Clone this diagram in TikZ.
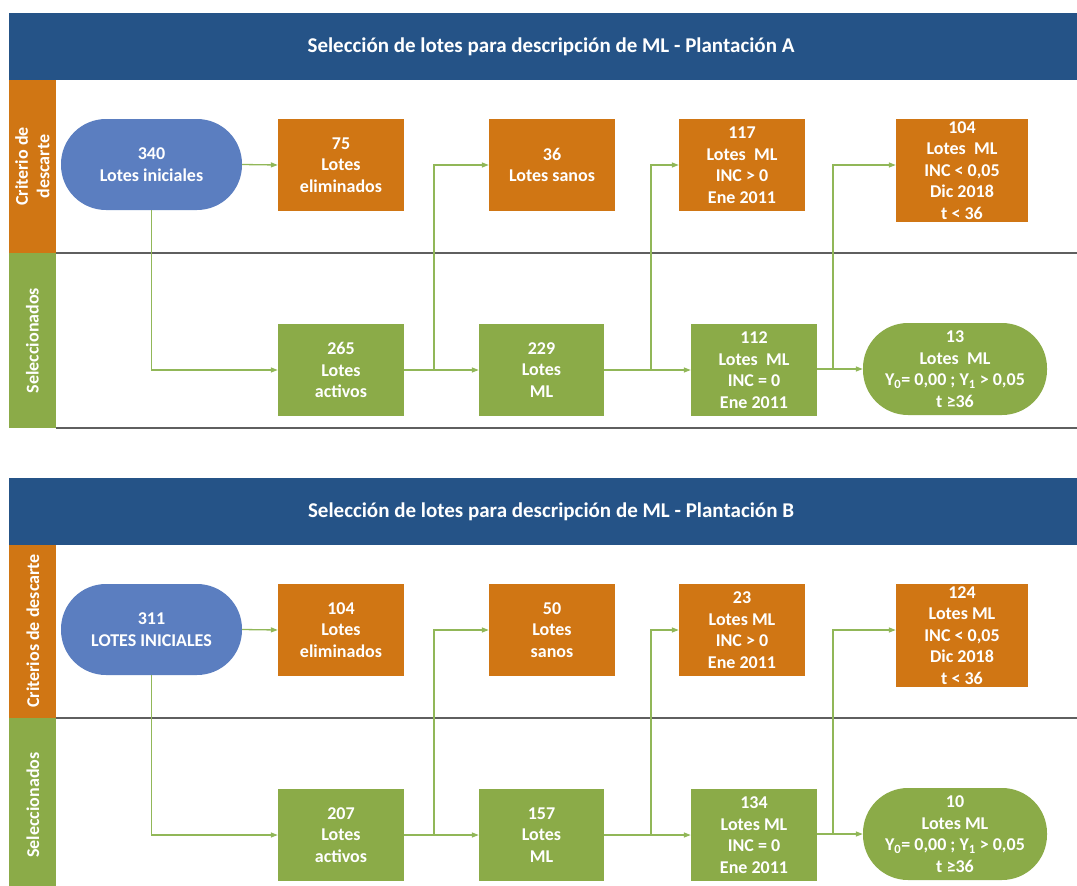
\documentclass[tikz,border=0pt]{standalone}
\usepackage{fontspec}
\setmainfont{Carlito}
\usetikzlibrary{arrows.meta,calc}
\definecolor{hdr}{RGB}{37,83,135}
\definecolor{orng}{RGB}{208,118,20}
\definecolor{grn}{RGB}{139,171,72}
\definecolor{stblue}{RGB}{91,126,192}
\definecolor{conncol}{RGB}{145,183,88}
\definecolor{lanegray}{RGB}{95,95,95}
\begin{document}
\begin{tikzpicture}[x=1pt,y=-1pt,
  txt/.style={font=\bfseries\fontsize{18}{21.5}\selectfont, text=white, align=center},
  htxt/.style={font=\bfseries\fontsize{21}{24}\selectfont, text=white, align=center},
  obox/.style={txt, fill=orng, inner sep=0pt, minimum width=126pt, minimum height=92pt},
  gbox/.style={txt, fill=grn, inner sep=0pt, minimum width=126pt, minimum height=92pt},
  stad/.style={txt, inner sep=0pt, minimum height=91pt, rounded corners=45pt},
  conn/.style={draw=conncol, line width=1.3pt, -{Triangle[length=7pt,width=5pt]}},
  lane/.style={draw=lanegray, line width=1.5pt},
  sidelab/.style={txt, rotate=90}
]
\useasboundingbox (0,0) rectangle (1077,886);

% ================= Panel A =================
\fill[hdr] (9,13) rectangle (1077,80);
\node[htxt] (ahdr) at (551,46.5) {Selección de lotes para descripción de ML - Plantación A};
\fill[orng] (9,80) rectangle (56,253);
\fill[grn] (9,253) rectangle (56,428);
\node[sidelab] (acrit) at (32.5,166.5) {Criterio de\\descarte};
\node[sidelab] (asel) at (32.5,340.5) {Seleccionados};
\draw[lane] (56,253) -- (1077,253);
\draw[lane] (56,428) -- (1077,428);

\node[stad, fill=stblue, minimum width=181pt] (aini) at (151.5,164.5) {340\\Lotes iniciales};
\node[obox] (aelim) at (341,165) {75\\Lotes\\eliminados};
\node[obox] (asan) at (552,165) {36\\Lotes sanos};
\node[obox] (ainc) at (742,165) {117\\Lotes~ ML\\INC > 0\\Ene 2011};
\node[obox, minimum width=132pt, minimum height=103pt] (adic) at (962,170.5) {104\\Lotes~ ML\\INC < 0,05\\Dic 2018\\t < 36};
\node[gbox] (aact) at (341,370) {265\\Lotes\\activos};
\node[gbox, minimum width=125pt] (aml) at (541.5,370) {229\\Lotes\\ML};
\node[gbox] (ainc0) at (754,370) {112\\Lotes~ ML\\INC = 0\\Ene 2011};
\node[stad, fill=grn, minimum width=184pt, minimum height=92pt] (afin) at (955,369) {13\\Lotes~ ML\\Y\textsubscript{0}= 0,00 ; Y\textsubscript{1} > 0,05\\t ≥36};

\coordinate (ab1) at (434,370);
\coordinate (ab2) at (651,370);
\coordinate (ab3) at (833,369);
\draw[conn] (aini.east) -- (aelim.west);
\draw[conn] (aini.south) |- (aact.west);
\draw[conn] (aact.east) -- (aml.west);
\draw[conn] (ab1) |- (asan.west);
\draw[conn] (aml.east) -- (ainc0.west);
\draw[conn] (ab2) |- (ainc.west);
\draw[conn] (ainc0.east |- afin.west) -- (afin.west);
\draw[conn] (ab3) |- (adic.west |- ainc.west);

% ================= Panel B =================
\fill[hdr] (9,478) rectangle (1077,545);
\node[htxt] (bhdr) at (551,511.5) {Selección de lotes para descripción de ML - Plantación B};
\fill[orng] (9,545) rectangle (56,718);
\fill[grn] (9,718) rectangle (56,886);
\node[sidelab] (bcrit) at (33,631) {Criterios de descarte};
\node[sidelab] (bsel) at (33,805) {Seleccionados};
\draw[lane] (56,718) -- (1077,718);

\node[stad, fill=stblue, minimum width=181pt] (bini) at (151.5,629.5) {311\\LOTES INICIALES};
\node[obox] (belim) at (341,630) {104\\Lotes\\eliminados};
\node[obox] (bsan) at (552,630) {50\\Lotes\\sanos};
\node[obox] (binc) at (742,630) {23\\Lotes ML\\INC > 0\\Ene 2011};
\node[obox, minimum width=132pt, minimum height=103pt] (bdic) at (962,635.5) {124\\Lotes ML\\INC < 0,05\\Dic 2018\\t < 36};
\node[gbox] (bact) at (341,835) {207\\Lotes\\activos};
\node[gbox, minimum width=125pt] (bml) at (541.5,835) {157\\Lotes\\ML};
\node[gbox] (binc0) at (754,835) {134\\Lotes ML\\INC = 0\\Ene 2011};
\node[stad, fill=grn, minimum width=184pt, minimum height=92pt] (bfin) at (955,834) {10\\Lotes ML\\Y\textsubscript{0}= 0,00 ; Y\textsubscript{1} > 0,05\\t ≥36};

\coordinate (bb1) at (434,835);
\coordinate (bb2) at (651,835);
\coordinate (bb3) at (833,834);
\draw[conn] (bini.east) -- (belim.west);
\draw[conn] (bini.south) |- (bact.west);
\draw[conn] (bact.east) -- (bml.west);
\draw[conn] (bb1) |- (bsan.west);
\draw[conn] (bml.east) -- (binc0.west);
\draw[conn] (bb2) |- (binc.west);
\draw[conn] (binc0.east |- bfin.west) -- (bfin.west);
\draw[conn] (bb3) |- (bdic.west |- binc.west);
\end{tikzpicture}
\end{document}
